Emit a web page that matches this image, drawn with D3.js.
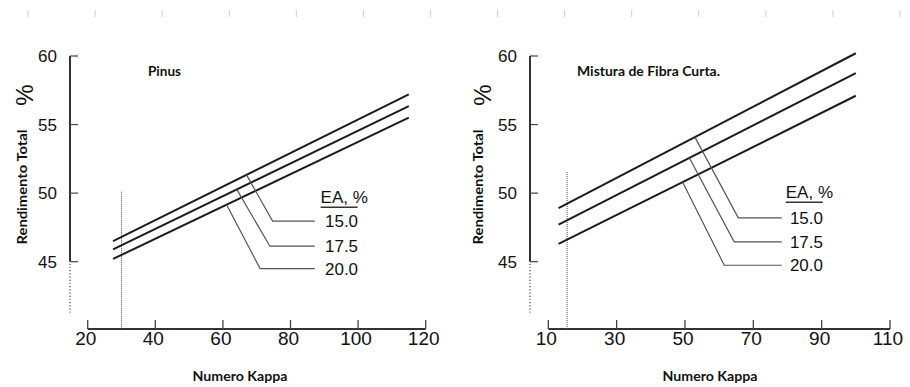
<!DOCTYPE html>
<html>
<head>
<meta charset="utf-8">
<script src="https://cdn.jsdelivr.net/npm/d3@7"></script>
<style>
  html, body { margin: 0; padding: 0; background: #fff; }
  svg { display: block; }
</style>
</head>
<body>
<svg id="chart" width="910" height="387"></svg>
<script>
// ---------- data ----------
const yTicks = [45, 50, 55, 60];
const xTicksLeft = [20, 40, 60, 80, 100, 120];
const xTicksRight = [10, 30, 50, 70, 90, 110];
const eaLevels = ["15.0", "17.5", "20.0"];

// Pinus (left panel): kappa range and yield at the ends for each EA level
const kappaPinus = [27.5, 115];
const pinusEA150 = [46.5, 57.2];
const pinusEA175 = [45.9, 56.35];
const pinusEA200 = [45.2, 55.5];

// Mistura de Fibra Curta (right panel)
const kappaFibra = [13, 100];
const fibraEA150 = [48.9, 60.2];
const fibraEA175 = [47.7, 58.75];
const fibraEA200 = [46.3, 57.1];

// reference (dotted) kappa line of each panel
const refKappa = [30, 15.5];
const refTop = [50.1, 51.55];

// ---------- layout ----------
const svg = d3.select("#chart");
const topTickIdx = d3.range(14);
const topScale = d3.scaleLinear().domain([0, 13]).range([28, 900]);
svg.selectAll("line.toptick").data(topTickIdx).enter().append("line")
  .attr("x1", d => topScale(d)).attr("x2", d => topScale(d))
  .attr("y1", 10).attr("y2", 17)
  .attr("stroke", "#cfcfcf").attr("stroke-width", 1);

const panels = [
  {
    title: "Pinus", titleX: 148, titleW: 33,
    axisX: 70, xRange: [87.7, 425.7], xDomain: [20, 120], xTicks: xTicksLeft,
    kappa: kappaPinus, series: [pinusEA150, pinusEA175, pinusEA200],
    anchors: [67, 64.1, 61.1],
    elbows: [[74.7, 47.96], [73.9, 46.13], [71.0, 44.5]],
    leaderEnd: 87.2, labelK: 90.2, eaK: 88.9, eaV: 49.73,
    refK: refKappa[0], refTop: refTop[0],
    yTitleX: 22, pctX: 24, xTitleX: 240
  },
  {
    title: "Mistura de Fibra Curta.", titleX: 577, titleW: 143,
    axisX: 530, xRange: [548.3, 890], xDomain: [10, 110], xTicks: xTicksRight,
    kappa: kappaFibra, series: [fibraEA150, fibraEA175, fibraEA200],
    anchors: [52.9, 51.3, 49.3],
    elbows: [[65.6, 48.2], [64.4, 46.45], [61.5, 44.74]],
    leaderEnd: 78.3, labelK: 80.7, eaK: 79.5, eaV: 50.1,
    refK: refKappa[1], refTop: refTop[1],
    yTitleX: 478, pctX: 482, xTitleX: 710
  }
];

const y = d3.scaleLinear().domain([45, 60]).range([261.7, 56]);
const xAxisY = 329;
const ink = "#111";
const sans = "Liberation Sans, Arial, sans-serif";
const bold = "Lato, Open Sans, sans-serif";

panels.forEach(p => {
  const g = svg.append("g");
  const x = d3.scaleLinear().domain(p.xDomain).range(p.xRange);

  // y axis line + inward ticks
  g.append("line").attr("x1", p.axisX).attr("x2", p.axisX)
    .attr("y1", y(60)).attr("y2", y(45)).attr("stroke", "#333").attr("stroke-width", 2);
  g.selectAll("line.yt").data(yTicks).enter().append("line")
    .attr("x1", p.axisX).attr("x2", p.axisX + 8)
    .attr("y1", d => y(d)).attr("y2", d => y(d))
    .attr("stroke", "#444").attr("stroke-width", 1.2);
  g.selectAll("text.yl").data(yTicks).enter().append("text")
    .attr("x", p.axisX - 13).attr("y", d => y(d)).attr("dy", "0.36em")
    .attr("text-anchor", "end")
    .attr("font-family", sans).attr("font-size", 17)
    .attr("fill", ink).text(d => d);
  // dotted continuation below
  g.append("line").attr("x1", p.axisX).attr("x2", p.axisX)
    .attr("y1", y(45) + 2).attr("y2", y(41.3))
    .attr("stroke", "#555").attr("stroke-width", 1.3).attr("stroke-dasharray", "1.2,2");

  // x axis line + upward ticks
  g.append("line").attr("x1", p.xRange[0]).attr("x2", p.xRange[1])
    .attr("y1", xAxisY).attr("y2", xAxisY).attr("stroke", "#333").attr("stroke-width", 2);
  g.selectAll("line.xt").data(p.xTicks).enter().append("line")
    .attr("x1", d => x(d)).attr("x2", d => x(d))
    .attr("y1", xAxisY).attr("y2", xAxisY - 9)
    .attr("stroke", "#444").attr("stroke-width", 1.3);
  g.selectAll("text.xl").data(p.xTicks).enter().append("text")
    .attr("x", d => x(d) - 2).attr("y", xAxisY + 16)
    .attr("text-anchor", "middle")
    .attr("font-family", sans).attr("font-size", 19)
    .attr("fill", ink).text(d => d);

  // reference dotted vertical line
  g.append("line").attr("x1", x(p.refK)).attr("x2", x(p.refK))
    .attr("y1", y(p.refTop)).attr("y2", xAxisY)
    .attr("stroke", "#555").attr("stroke-width", 1.1).attr("stroke-dasharray", "1,1");

  // series lines
  const line = d3.line().x(d => x(d[0])).y(d => y(d[1]));
  p.series.forEach(s => {
    const pts = p.kappa.map((k, i) => [k, s[i]]);
    g.append("path").attr("d", line(pts)).attr("fill", "none")
      .attr("stroke", "#1c1c1c").attr("stroke-width", 2);
  });

  // leaders
  p.series.forEach((s, i) => {
    const interp = d3.scaleLinear().domain(p.kappa).range(s);
    const a = [p.anchors[i], interp(p.anchors[i])];
    const e = p.elbows[i];
    const pts = [a, e, [p.leaderEnd, e[1]]];
    g.append("path").attr("d", line(pts)).attr("fill", "none")
      .attr("stroke", "#555").attr("stroke-width", 1.2);
    g.append("text").attr("x", x(p.labelK)).attr("y", y(e[1])).attr("dy", "0.36em")
      .attr("font-family", sans).attr("font-size", 17)
      .attr("fill", ink).text(eaLevels[i]);
  });

  // EA, % header
  g.append("text").attr("x", x(p.eaK)).attr("y", y(p.eaV)).attr("dy", "0.36em")
    .attr("font-family", sans).attr("font-size", 17)
    .attr("fill", ink).text("EA, %");
  g.append("line").attr("x1", x(p.eaK)).attr("x2", x(p.eaK) + 37)
    .attr("y1", y(p.eaV) + 10.5).attr("y2", y(p.eaV) + 10.5)
    .attr("stroke", "#333").attr("stroke-width", 1.5);

  // panel title
  g.append("text").attr("x", p.titleX).attr("y", 71).attr("dy", "0.36em")
    .attr("font-family", bold).attr("font-weight", "bold")
    .attr("font-size", 12.5).attr("textLength", p.titleW).attr("lengthAdjust", "spacingAndGlyphs")
    .attr("fill", "#111").text(p.title);

  // y title
  g.append("text").attr("transform", `translate(${p.yTitleX},187) rotate(-90)`)
    .attr("dy", "0.36em").attr("text-anchor", "middle")
    .attr("font-family", bold).attr("font-weight", "bold")
    .attr("font-size", 14).attr("textLength", 115).attr("lengthAdjust", "spacingAndGlyphs")
    .attr("fill", "#111").text("Rendimento Total");
  g.append("text").attr("transform", `translate(${p.pctX},95) rotate(-90)`)
    .attr("dy", "0.36em").attr("text-anchor", "middle")
    .attr("font-family", sans)
    .attr("font-size", 24).attr("fill", ink).text("%");

  // x title
  g.append("text").attr("x", p.xTitleX).attr("y", 381)
    .attr("text-anchor", "middle")
    .attr("font-family", bold).attr("font-weight", "bold")
    .attr("font-size", 13).attr("textLength", 95).attr("lengthAdjust", "spacingAndGlyphs")
    .attr("fill", "#111").text("Numero Kappa");
});
</script>
</body>
</html>
